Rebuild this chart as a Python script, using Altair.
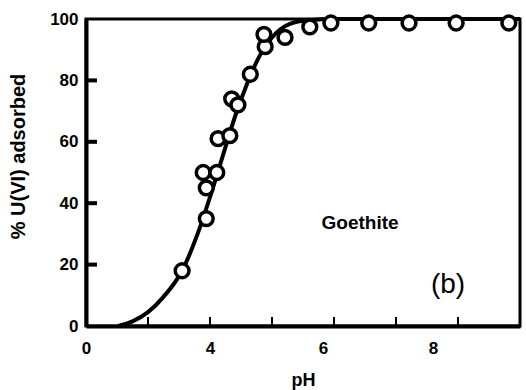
import altair as alt
import pandas as pd

# Measured U(VI) uptake on goethite (open circles)
ph_obs = [3.55, 3.94, 3.94, 3.89, 4.11, 4.13, 4.32, 4.35, 4.45, 4.65,
          4.89, 4.87, 5.21, 5.61, 5.95, 6.56, 7.21, 7.97, 8.82]
u_obs = [18, 35, 45, 50, 50, 61, 62, 74, 72, 82,
         91, 95, 94, 97.4, 98.7, 98.7, 98.7, 98.7, 98.7]

# Model curve
ph_fit = [2.52, 2.75, 3.0, 3.25, 3.55, 3.8, 4.0, 4.2, 4.4, 4.6,
          4.8, 5.0, 5.3, 5.6, 6.0, 9.0]
u_fit = [0, 1.5, 4.5, 9.5, 18, 30, 42, 55, 68, 79,
         88, 94, 98.5, 99.6, 100, 100]

# Axis ticks and labels
x_tick_vals = [3, 4, 5, 6, 7, 8]
x_label_vals = [2, 4, 6, 8]
y_tick_vals = [20, 40, 60, 80]
y_label_vals = [0, 20, 40, 60, 80, 100]

# Annotations
notes = ["Goethite", "(b)"]
note_ph = [6.42, 7.84]
note_u = [33.5, 13.4]

W, H = 434, 307
FONT = "Liberation Sans"

obs = pd.DataFrame({"pH": ph_obs, "U": u_obs})
fit = pd.DataFrame({"pH": ph_fit, "U": u_fit})
xt = pd.DataFrame({"pH": x_tick_vals})
yt = pd.DataFrame({"U": y_tick_vals})

xscale = alt.Scale(domain=[2, 9], nice=False, zero=False)
yscale = alt.Scale(domain=[0, 100], nice=False)

x_axis = alt.Axis(
    values=x_label_vals, format="d",
    labelExpr="datum.value == 2 ? '0' : datum.label",
    labelOffset={"condition": [
        {"test": "datum.value == 6", "value": -11},
        {"test": "datum.value == 8", "value": -25},
    ], "value": 0},
    ticks=False, grid=False,
    domainColor="black", domainWidth=4,
    labelFont=FONT, labelFontSize=17, labelFontWeight="bold", labelColor="black",
    labelPadding=14, labelFlush=False,
    title="pH", titleFont=FONT, titleFontSize=18, titleFontWeight="bold",
    titleColor="black", titleY=54, titleBaseline="middle",
)
y_axis = alt.Axis(
    values=y_label_vals, format="d",
    ticks=False, grid=False,
    domainColor="black", domainWidth=4,
    labelFont=FONT, labelFontSize=17, labelFontWeight="bold", labelColor="black",
    labelPadding=8, labelFlush=False,
    title="% U(VI) adsorbed", titleFont=FONT, titleFontSize=20, titleFontWeight="bold",
    titleColor="black", titleX=-68, titleY=137, titleAlign="center",
    titleBaseline="middle",
)

curve = alt.Chart(fit).mark_line(
    color="black", strokeWidth=4, interpolate="monotone"
).encode(
    x=alt.X("pH:Q", scale=xscale, axis=x_axis),
    y=alt.Y("U:Q", scale=yscale, axis=y_axis),
)

points = alt.Chart(obs).mark_point(
    shape="circle", size=190, filled=True, fill="white",
    stroke="black", strokeWidth=3.5, opacity=1
).encode(
    x=alt.X("pH:Q", scale=xscale),
    y=alt.Y("U:Q", scale=yscale),
)

# Inward-pointing tick marks
xticks = alt.Chart(xt).mark_rule(color="black", strokeWidth=2).encode(
    x=alt.X("pH:Q", scale=xscale),
    y=alt.value(H - 1),
    y2=alt.value(H - 9),
)

yticks = alt.Chart(yt).mark_rule(color="black", strokeWidth=4).encode(
    y=alt.Y("U:Q", scale=yscale),
    x=alt.value(1),
    x2=alt.value(11),
)

label_df = pd.DataFrame({"text": notes, "pH": note_ph, "U": note_u})
goethite = alt.Chart(label_df.iloc[[0]]).mark_text(
    font=FONT, fontSize=19, fontWeight="bold", color="black", align="center", baseline="middle"
).encode(x=alt.X("pH:Q", scale=xscale), y=alt.Y("U:Q", scale=yscale), text="text:N")
panel = alt.Chart(label_df.iloc[[1]]).mark_text(
    font=FONT, fontSize=28, fontWeight="normal", color="black", align="center", baseline="middle"
).encode(x=alt.X("pH:Q", scale=xscale), y=alt.Y("U:Q", scale=yscale), text="text:N")

chart = alt.layer(curve, xticks, yticks, points, goethite, panel).properties(
    width=W, height=H,
    autosize=alt.AutoSizeParams(type="none"),
    padding={"left": 86, "top": 19, "right": 6, "bottom": 64},
    background="white",
).configure_view(stroke="black", strokeWidth=3)

chart.save("out.html", embed_options={"renderer": "svg", "actions": False})
